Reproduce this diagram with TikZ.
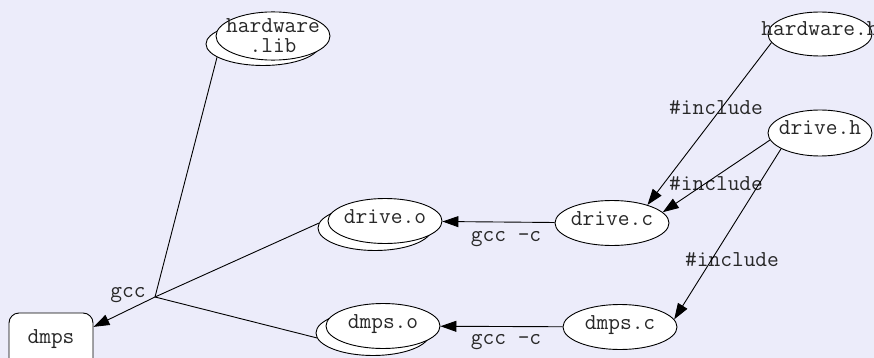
\documentclass[tikz,border=0pt]{standalone}
\usetikzlibrary{shapes.geometric,arrows.meta}
\definecolor{bgcol}{RGB}{236,236,250}
\definecolor{inkcol}{RGB}{40,40,40}
% zero-width centred text, so the ellipse keeps its own size
\newcommand\midtext[1]{\makebox[0pt]{#1}}
\begin{document}
\begin{tikzpicture}[x=1pt,y=-1pt,
  every node/.style={font=\fontsize{22.8}{17}\selectfont\ttfamily, text=inkcol},
  oval/.style={ellipse, draw, fill=white, line width=0.9pt, inner sep=0pt,
               minimum width=114pt, minimum height=45pt,
               text height=0.62em, text depth=0.22em},
  backoval/.style={ellipse, draw, fill=white, line width=0.9pt, inner sep=0pt,
               minimum width=114pt, minimum height=45pt},
  lbl/.style={inner sep=0pt, text height=0.62em, text depth=0.22em},
  edge/.style={line width=0.9pt},
  arr/.style={edge, -{Triangle[length=16pt,width=11pt]}}]

\fill[bgcol] (0,0) rectangle (874,358);
\useasboundingbox (0,0) rectangle (874,358);

% library and object files (stacked ellipses)
\node[backoval, minimum height=43pt] (hwlibb) at (263,44) {};
\node[backoval, minimum height=43pt, align=center] (hwlib) at (273,36)
  {\midtext{hardware}\\[3pt]\midtext{.lib}};
\node[backoval] (driveob) at (375,228) {};
\node[oval] (driveo) at (385,221) {\midtext{drive.o}};
\node[backoval] (dmpsob) at (373,333) {};
\node[oval] (dmpso) at (383,326) {\midtext{dmps.o}};

% sources and headers
\node[oval] (drivec) at (612,223) {\midtext{drive.c}};
\node[oval] (dmpsc) at (620,327) {\midtext{dmps.c}};
\node[oval, minimum width=104pt, minimum height=44pt] (hwh) at (820,34) {\midtext{hardware.h}};
\node[oval, minimum width=104pt, minimum height=46pt] (driveh) at (820,133) {\midtext{drive.h}};

% final executable
\node[draw, fill=white, line width=0.9pt, rounded corners=10pt, inner sep=0pt,
      minimum width=84pt, minimum height=57pt, text height=0.62em, text depth=0.22em]
  (dmps) at (51,341.5) {\midtext{dmps}};

% link junction
\coordinate (j) at (155,297);

% edge labels
\node[lbl] (inc1) at (716,113) {\#include};
\node[lbl] (inc2) at (716,188) {\#include};
\node[lbl] (inc3) at (732,264) {\#include};
\node[lbl] (gcc1) at (506,239) {gcc -c};
\node[lbl] (gcc2) at (506,342) {gcc -c};
\node[lbl] (gcc0) at (128,295) {gcc};

% linking
\draw[edge] (j) -- (hwlibb.196);
\draw[edge] (j) -- (driveob.175);
\draw[edge] (j) -- (dmpsob.185);
\draw[arr] (j) -- (dmps.19);

% includes
\draw[arr] (hwh.190) -- (drivec.27);
\draw[arr] (driveh.188) -- (drivec.12);
\draw[arr] (driveh.202) -- (dmpsc.8);

% compiling
\draw[arr] (drivec) -- (driveo);
\draw[arr] (dmpsc) -- (dmpso);
\end{tikzpicture}
\end{document}
